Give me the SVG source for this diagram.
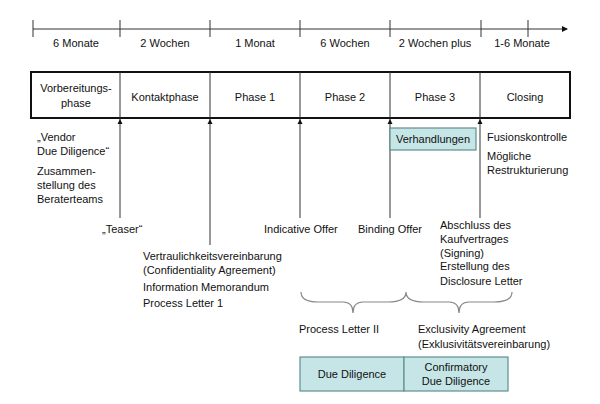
<svg xmlns="http://www.w3.org/2000/svg" width="600" height="404" viewBox="0 0 600 404">
<defs>
<style>
text{font-family:"Liberation Sans",Arial,sans-serif;font-size:11px;fill:#111}
.c{text-anchor:middle}
.ln{stroke:#333;stroke-width:1;fill:none}
.tl{fill:#c6e5e6;stroke:#5f8f90;stroke-width:1.2}
</style>
<marker id="ah" markerWidth="6" markerHeight="6" refX="5" refY="3" orient="auto" markerUnits="userSpaceOnUse"><path d="M0,0.5 L5,3 L0,5.5 Z" fill="#111"/></marker>
<marker id="ar" markerWidth="6" markerHeight="6" refX="5" refY="3" orient="auto" markerUnits="userSpaceOnUse"><path d="M0,0 L6,3 L0,6 Z" fill="#111"/></marker>
</defs>
<rect width="600" height="404" fill="#fff"/>
<g id="timeline">
<line class="ln" x1="33" y1="29" x2="567" y2="29" marker-end="url(#ar)"/>
<path class="ln" d="M33,20V37M120,20V37M210,20V37M300,20V37M390,20V37M481,20V37M528,20V37"/>
<text class="c" x="76" y="47">6 Monate</text>
<text class="c" x="165" y="47">2 Wochen</text>
<text class="c" x="255" y="47">1 Monat</text>
<text class="c" x="345" y="47">6 Wochen</text>
<text class="c" x="435" y="47">2 Wochen plus</text>
<text class="c" x="522" y="47">1-6 Monate</text>
</g>
<g id="phases">
<rect x="31" y="72" width="539" height="46" fill="#fff" stroke="#111" stroke-width="2"/>
<path class="ln" d="M120,72V118M210,72V118M300,72V118M390,72V118M480,72V118"/>
<text class="c" x="76" y="92">Vorbereitungs-</text>
<text class="c" x="76" y="107">phase</text>
<text class="c" x="165" y="101">Kontaktphase</text>
<text class="c" x="255" y="101">Phase 1</text>
<text class="c" x="345" y="101">Phase 2</text>
<text class="c" x="435" y="101">Phase 3</text>
<text class="c" x="525" y="101">Closing</text>
</g>
<g id="connectors">
<line class="ln" x1="120" y1="218" x2="120" y2="119" marker-end="url(#ah)"/>
<line class="ln" x1="210" y1="245" x2="210" y2="119" marker-end="url(#ah)"/>
<line class="ln" x1="300" y1="218" x2="300" y2="119" marker-end="url(#ah)"/>
<line class="ln" x1="390" y1="218" x2="390" y2="119" marker-end="url(#ah)"/>
<line class="ln" x1="480" y1="218" x2="480" y2="119" marker-end="url(#ah)"/>
<path d="M301,292 Q301,302 318,302 L343,302 Q353,302 353,313 Q353,302 363,302 L388,302 Q406,302 406,292 Q406,302 424,302 L449,302 Q459,302 459,313 Q459,302 469,302 L494,302 Q512,302 512,292" fill="none" stroke="#888" stroke-width="1.2"/>
</g>
<g id="notes">
<text x="37" y="141">„Vendor</text>
<text x="37" y="155">Due Diligence“</text>
<text x="37" y="175">Zusammen-</text>
<text x="37" y="189">stellung des</text>
<text x="37" y="203">Beraterteams</text>
<text x="102" y="233">„Teaser“</text>
<text x="143" y="260">Vertraulichkeitsvereinbarung</text>
<text x="143" y="274">(Confidentiality Agreement)</text>
<text x="143" y="291">Information Memorandum</text>
<text x="143" y="307">Process Letter 1</text>
<text x="264" y="233">Indicative Offer</text>
<text x="358" y="233">Binding Offer</text>
<text x="440" y="229">Abschluss des</text>
<text x="440" y="243">Kaufvertrages</text>
<text x="440" y="257">(Signing)</text>
<text x="440" y="270">Erstellung des</text>
<text x="440" y="285">Disclosure Letter</text>
<text x="487" y="141">Fusionskontrolle</text>
<text x="487" y="160">Mögliche</text>
<text x="487" y="174">Restrukturierung</text>
<text x="299" y="333">Process Letter II</text>
<text x="418" y="333">Exclusivity Agreement</text>
<text x="418" y="348">(Exklusivitätsvereinbarung)</text>
</g>
<g id="verhandlungen">
<rect class="tl" x="390" y="128" width="86" height="22"/>
<text class="c" x="433" y="143">Verhandlungen</text>
</g>
<g id="duediligence">
<rect class="tl" x="300" y="357" width="104" height="34"/>
<text class="c" x="352" y="378">Due Diligence</text>
</g>
<g id="confirmatory">
<rect class="tl" x="404" y="357" width="104" height="34"/>
<text class="c" x="456" y="371">Confirmatory</text>
<text class="c" x="456" y="385">Due Diligence</text>
</g>
</svg>
